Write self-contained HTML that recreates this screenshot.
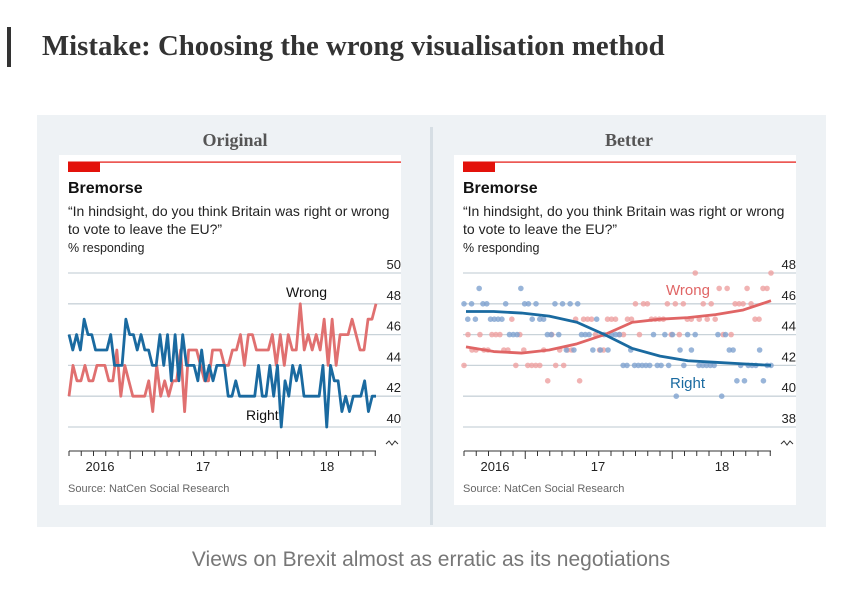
<!DOCTYPE html>
<html><head><meta charset="utf-8"><style>
html,body{margin:0;padding:0;background:#fff;width:859px;height:595px;overflow:hidden}
svg{display:block;font-family:"Liberation Sans",sans-serif}
</style></head><body>
<svg width="859" height="595" viewBox="0 0 859 595">
<rect x="0" y="0" width="859" height="595" fill="#fff"/>
<rect x="7" y="27" width="4" height="40" fill="#333"/>
<text x="42" y="55" font-family="Liberation Serif,serif" font-weight="bold" font-size="28.8" fill="#333">Mistake: Choosing the wrong visualisation method</text>
<rect x="37" y="115" width="789" height="412" fill="#eef2f5"/>
<rect x="430" y="127" width="3" height="398" fill="#d6dee4"/>
<text x="235" y="146" text-anchor="middle" font-family="Liberation Serif,serif" font-weight="bold" font-size="18" fill="#555">Original</text>
<text x="629" y="146" text-anchor="middle" font-family="Liberation Serif,serif" font-weight="bold" font-size="18" fill="#555">Better</text>
<g id="L"></g>
<g id="R"></g>
<text x="431" y="566" text-anchor="middle" font-size="21" fill="#777">Views on Brexit almost as erratic as its negotiations</text>
</svg>
<script>
const wrongVals=[42,44,43,43,44,43,43,44,44,44,43,43,45,42,44,43,42,42,42,42,43,41,44,42,43,42,43,43,45,41,45,45,45,44,43,43,45,45,45,44,44,45,45,46,44,46,46,45,45,45,45,46,44,46,44,46,45,45,48,45,46,45,46,45,47,44,47,44,46,46,46,47,46,45,45,47,47,48];
const rightVals=[46,45,46,45,47,46,46,45,45,45,45,46,44,44,44,47,46,46,45,46,45,45,44,44,46,44,46,43,46,43,46,44,44,44,43,45,43,44,43,44,44,44,42,42,43,42,42,42,42,42,44,42,42,44,42,44,40,43,42,44,43,44,42,42,42,42,42,44,40,44,43,43,41,42,41,42,42,42,43,41,42,42];
const rightTrend=[45.5,45.5,45.4,45.2,44.8,44.0,43.1,42.6,42.3,42.2,42.1,42.0];
const wrongTrend=[43.2,42.9,42.8,43.0,43.4,44.0,44.8,45.0,45.1,45.3,45.6,46.2];
const leftTicks=[50,48,46,44,42,40];
const rightTicks=[48,46,44,42,40,38];
const yearLabels=["2016","17","18"];
const NS="http://www.w3.org/2000/svg";
function mk(p,t,a,txt){const e=document.createElementNS(NS,t);for(const k in a)e.setAttribute(k,a[k]);if(txt!=null)e.textContent=txt;p.appendChild(e);return e;}
function build(g,ox,ticks,better){
  const card=mk(g,'rect',{x:ox-9,y:155,width:342,height:350,fill:'#fff'});
  
  mk(g,'rect',{x:ox,y:161.5,width:333,height:1.2,fill:'#e3120b'});
  mk(g,'rect',{x:ox,y:162,width:32,height:10,fill:'#e3120b'});
  const t=mk(g,'text',{x:ox,y:193,'font-size':16,'font-weight':'bold',fill:'#111'},'Bremorse');
  
  mk(g,'text',{x:ox,y:216,'font-size':14,fill:'#222'},'\u201cIn hindsight, do you think Britain was right or wrong');
  mk(g,'text',{x:ox,y:234,'font-size':14,fill:'#222'},'to vote to leave the EU?\u201d');
  mk(g,'text',{x:ox,y:252,'font-size':12.5,fill:'#222'},'% responding');
  const top=ticks[0],bot=ticks[ticks.length-1];
  const y=v=>273+(top-v)/(top-bot)*154;
  const x0=ox+1,x1=ox+308;
  ticks.forEach(v=>{
    const l=mk(g,'line',{x1:ox,x2:ox+333,y1:y(v),y2:y(v),stroke:'#c9d3d9','stroke-width':1.3});
    
    const tx=mk(g,'text',{x:ox+333,y:y(v)-4,'text-anchor':'end','font-size':13,fill:'#222'},String(v));
    
  });
  mk(g,'path',{d:`M${ox+318} ${y(bot)+17}l3 -3 3 4 3 -4 3 3`,stroke:'#333',fill:'none','stroke-width':1});
  mk(g,'line',{x1:ox+1,x2:ox+308,y1:451,y2:451,stroke:'#333','stroke-width':1});
  for(let i=0;i<=25;i++){const xx=ox+1+i*12.25;const maj=(i==5||i==17);mk(g,'line',{x1:xx,x2:xx,y1:451,y2:maj?459:456,stroke:'#333','stroke-width':1});}
  [[32,0],[135,1],[259,2]].forEach(([dx,i])=>{const tx=mk(g,'text',{x:ox+dx,y:471,'text-anchor':'middle','font-size':13,fill:'#222'},yearLabels[i]);
    });
  const s=mk(g,'text',{x:ox,y:492,'font-size':11,fill:'#666'},'Source: NatCen Social Research');
  
  const xs=(i,n)=>x0+i/(n-1)*(x1-x0);
  if(!better){
    [[wrongVals,'#e07070','wrong-line'],[rightVals,'#1a6aa0','right-line']].forEach(([arr,c,nm])=>{
      const p=mk(g,'polyline',{points:arr.map((v,i)=>xs(i,arr.length)+','+y(v)).join(' '),fill:'none',stroke:c,'stroke-width':2.8,'stroke-linejoin':'round'});
      
    });
    mk(g,'text',{x:ox+218,y:297,'font-size':14,fill:'#111'},'Wrong');
    mk(g,'text',{x:ox+178,y:420,'font-size':14,fill:'#111'},'Right');
  } else {
    [[wrongVals,'#eea0a0'],[rightVals,'#7fa3cf']].forEach(([arr,c])=>{
      arr.forEach((v,i)=>{const d=mk(g,'circle',{cx:xs(i,arr.length),cy:y(v),r:2.8,fill:c,'fill-opacity':0.8});
        });
    });
    [[wrongTrend,'#e06565','wrong-trend'],[rightTrend,'#1a6aa0','right-trend']].forEach(([arr,c,nm])=>{
      let d='';arr.forEach((v,i)=>{d+=(i?'L':'M')+(x0+2+i/(arr.length-1)*(x1-x0-2))+' '+y(v);});
      const p=mk(g,'path',{d:d,fill:'none',stroke:c,'stroke-width':2.8,'stroke-linejoin':'round'});
      
    });
    mk(g,'text',{x:ox+203,y:295,'font-size':15,fill:'#e06565'},'Wrong');
    mk(g,'text',{x:ox+207,y:388,'font-size':15,fill:'#1a6aa0'},'Right');
  }
}
build(document.getElementById('L'),68,leftTicks,false);
build(document.getElementById('R'),463,rightTicks,true);
</script>
</body></html>
